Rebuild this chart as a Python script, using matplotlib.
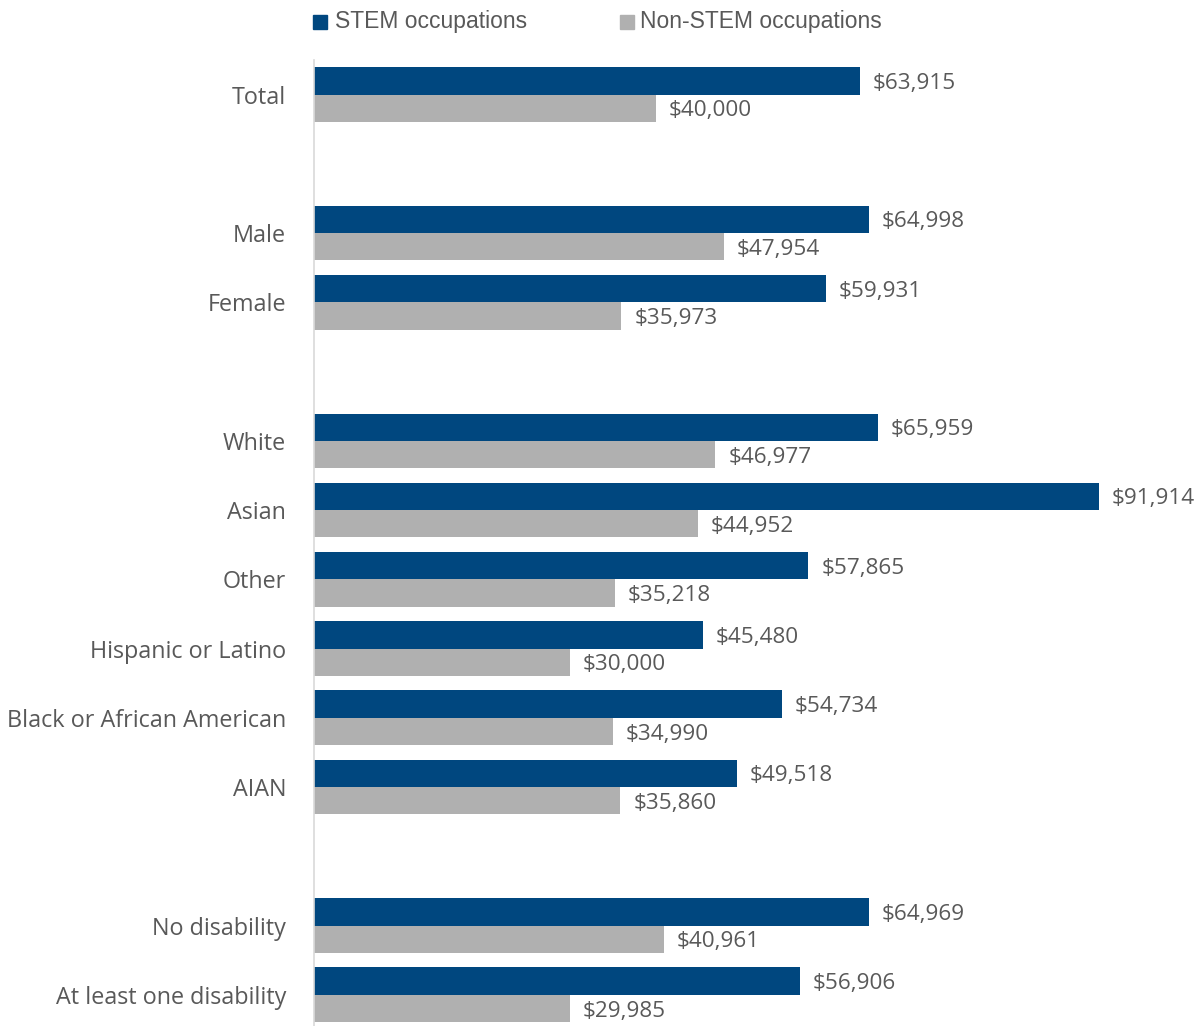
import numpy as np
import matplotlib.pyplot as plt

categories = ["Total", "", "Male", "Female", "", "White", "Asian", "Other",
              "Hispanic or Latino", "Black or African American", "AIAN", "",
              "No disability", "At least one disability"]
stem = [63915, None, 64998, 59931, None, 65959, 91914, 57865,
        45480, 54734, 49518, None, 64969, 56906]
non_stem = [40000, None, 47954, 35973, None, 46977, 44952, 35218,
            30000, 34990, 35860, None, 40961, 29985]

stem_color = "#00477f"
non_color = "#b0b0b0"
text_color = "#595959"

fig = plt.figure(figsize=(11.99, 10.26), dpi=100)
ax = fig.add_axes([314 / 1199, 1 - 1026 / 1026, (1100 - 314) / 1199, (1026 - 60) / 1026])

h = 0.395
for i, (s, n) in enumerate(zip(stem, non_stem)):
    if s is None:
        continue
    ax.barh(i - h / 2, s, height=h, color=stem_color)
    ax.barh(i + h / 2, n, height=h, color=non_color)
    ax.text(s + 1500, i - h / 2, f"${s:,}", va="center_baseline", ha="left",
            fontsize=16.2, color=text_color, family="Open Sans")
    ax.text(n + 1500, i + h / 2, f"${n:,}", va="center_baseline", ha="left",
            fontsize=16.2, color=text_color, family="Open Sans")

ax.set_xlim(0, 92000)
ax.set_ylim(13.45, -0.5)
ax.set_yticks(range(len(categories)))
ax.set_yticklabels(categories, fontsize=16.8, color=text_color, family="Open Sans")
ax.tick_params(axis="y", length=0, pad=20)
ax.set_xticks([])
for side in ["top", "right", "bottom"]:
    ax.spines[side].set_visible(False)
ax.spines["left"].set_color("#d9d9d9")
ax.spines["left"].set_linewidth(1.2)

# legend
fig.patches.append(plt.Rectangle((313 / 1199, 1 - 29 / 1026), 14 / 1199, 14 / 1026,
                                 transform=fig.transFigure, color=stem_color))
fig.text(335 / 1199, 1 - 22 / 1026, "STEM occupations", fontsize=16.5,
         color=text_color, family="Liberation Sans", va="center")
fig.patches.append(plt.Rectangle((620 / 1199, 1 - 29 / 1026), 14 / 1199, 14 / 1026,
                                 transform=fig.transFigure, color=non_color))
fig.text(640 / 1199, 1 - 22 / 1026, "Non-STEM occupations", fontsize=16.5,
         color=text_color, family="Liberation Sans", va="center")

plt.savefig("out.png", dpi=100)
